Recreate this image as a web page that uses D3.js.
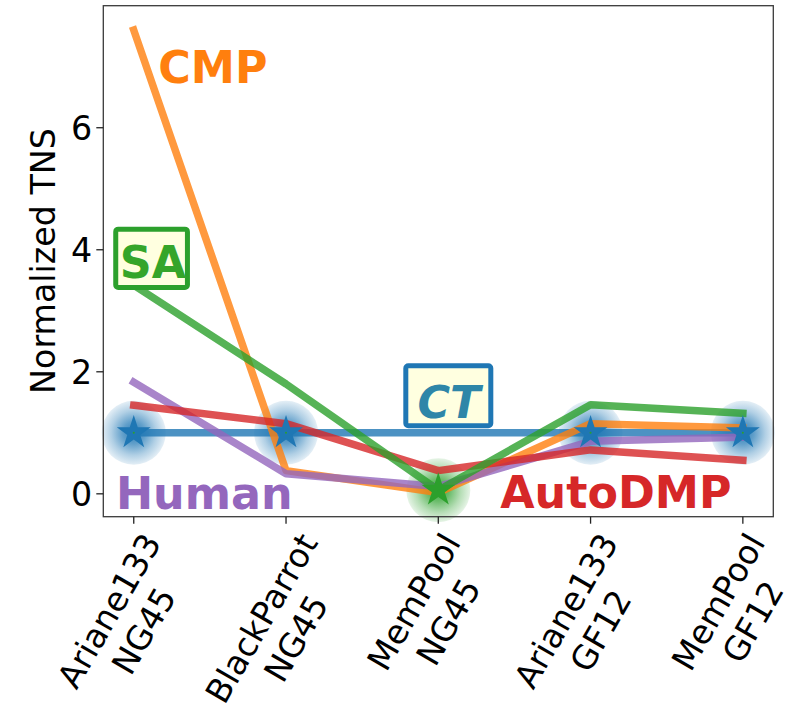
<!DOCTYPE html>
<html>
<head>
<meta charset="utf-8">
<script src="https://cdn.jsdelivr.net/npm/d3@7"></script>
<style>
  html, body { margin: 0; padding: 0; background: #fff; }
  svg { display: block; }
</style>
</head>
<body>
<div id="chart"></div>
<script>
// ---------------- data ----------------
const designs = ["Ariane133", "BlackParrot", "MemPool", "Ariane133", "MemPool"];
const nodes   = ["NG45", "NG45", "NG45", "GF12", "GF12"];
const yTicks  = [0, 2, 4, 6];

const seriesNames = ["CT", "CMP", "Human", "AutoDMP", "SA"];
const CT      = [1.00, 1.00, 1.00, 1.00, 1.00];
const CMP     = [7.60, 0.38, 0.02, 1.15, 1.08];
const SA      = [3.42, 1.80, 0.06, 1.46, 1.32];
const Human   = [1.83, 0.33, 0.12, 0.86, 0.93];
const AutoDMP = [1.45, 1.15, 0.38, 0.72, 0.55];
const bestSeries = ["CT", "CT", "SA", "CT", "CT"];

// annotation label anchors (data coordinates)
const annotNames = ["CMP", "SA", "CT", "Human", "AutoDMP"];
const annotX     = [0.520, 0.126, 2.069, 0.463, 3.166];
const annotY     = [6.73, 3.533, 1.238, -0.249, -0.238];

// ---------------- styles ----------------
const values = { CT, CMP, SA, Human, AutoDMP };
const colors = { CT: "#1f77b4", CMP: "#ff7f0e", SA: "#2ca02c", Human: "#9467bd", AutoDMP: "#d62728" };
const textColors = { CT: "#2e86a8", CMP: "#ff7f0e", SA: "#35a52a", Human: "#9467bd", AutoDMP: "#d62728" };
const boxes = {
  SA: { dx: -37.2, dy: -49.1, w: 71.7, h: 58.3 },
  CT: { dx: -43.0, dy: -52.5, w: 85.0, h: 60.0 }
};
const FONT = "DejaVu Sans";
const W = 805, H = 711;
const plot = { left: 103.3, right: 773.3, top: 5.7, bottom: 516.7 };

const svg = d3.select("#chart").append("svg").attr("width", W).attr("height", H);
svg.append("rect").attr("width", W).attr("height", H).attr("fill", "#fff");

const x = d3.scaleLinear().domain([-0.2, designs.length - 1 + 0.2]).range([plot.left, plot.right]);
const y = d3.scaleLinear().domain([-0.375, 8.0]).range([plot.bottom, plot.top]);

// gradients for glows
const defs = svg.append("defs");
function glowGrad(id, c) {
  const g = defs.append("radialGradient").attr("id", id);
  [[0, 0.95], [0.35, 0.7], [0.7, 0.35], [1, 0.12]].forEach(([o, a]) =>
    g.append("stop").attr("offset", o).attr("stop-color", c).attr("stop-opacity", a));
}
glowGrad("glow-CT", colors.CT);
glowGrad("glow-SA", colors.SA);
defs.append("clipPath").attr("id", "clip").append("rect")
  .attr("x", plot.left).attr("y", plot.top)
  .attr("width", plot.right - plot.left).attr("height", plot.bottom - plot.top);

const idx = d3.range(designs.length);

// glows
svg.append("g").selectAll("circle").data(idx).join("circle")
  .attr("cx", i => x(i)).attr("cy", i => y(values[bestSeries[i]][i]))
  .attr("r", 32)
  .attr("fill", i => `url(#glow-${bestSeries[i]})`);

// lines
const line = d3.line().x((d, i) => x(i)).y(d => y(d));
const lg = svg.append("g").attr("clip-path", "url(#clip)");
seriesNames.forEach(name => {
  lg.append("path").datum(values[name])
    .attr("d", line)
    .attr("fill", "none")
    .attr("stroke", colors[name])
    .attr("stroke-opacity", 0.8)
    .attr("stroke-width", 7.5)
    .attr("stroke-linecap", "square")
    .attr("stroke-linejoin", "round");
});

// stars
const star = d3.symbol().type(d3.symbolStar).size(356);
svg.append("g").selectAll("path").data(idx).join("path")
  .attr("transform", i => `translate(${x(i)},${y(values[bestSeries[i]][i])})`)
  .attr("d", star)
  .attr("fill", i => colors[bestSeries[i]]);
svg.append("g").selectAll("circle").data(idx).join("circle")
  .attr("cx", i => x(i)).attr("cy", i => y(values[bestSeries[i]][i]))
  .attr("r", 1).attr("fill", colors.SA);

// frame
svg.append("rect")
  .attr("x", plot.left).attr("y", plot.top)
  .attr("width", plot.right - plot.left).attr("height", plot.bottom - plot.top)
  .attr("fill", "none").attr("stroke", "#3a3a3a").attr("stroke-width", 1.3);

// y ticks
const yt = svg.append("g");
yTicks.forEach(t => {
  yt.append("line").attr("x1", plot.left - 7).attr("x2", plot.left)
    .attr("y1", y(t)).attr("y2", y(t)).attr("stroke", "#222").attr("stroke-width", 1.3);
  yt.append("text").attr("x", plot.left - 11).attr("y", y(t) + 12)
    .attr("text-anchor", "end").attr("font-family", FONT).attr("font-size", 33.3)
    .attr("fill", "#000").text(t);
});

// y label
svg.append("text")
  .attr("transform", `translate(55,261) rotate(-90)`)
  .attr("text-anchor", "middle").attr("font-family", FONT).attr("font-size", 33.3)
  .attr("fill", "#000").text("Normalized TNS");

// x ticks & labels
const xt = svg.append("g");
const xfs = 33.3, lh = 1.2 * xfs;
idx.forEach(i => {
  xt.append("line").attr("x1", x(i)).attr("x2", x(i))
    .attr("y1", plot.bottom).attr("y2", plot.bottom + 7)
    .attr("stroke", "#222").attr("stroke-width", 1.3);
  const g = xt.append("g");
  const t = g.append("text").attr("text-anchor", "middle")
    .attr("font-family", FONT).attr("font-size", xfs).attr("fill", "#000");
  const l1 = t.append("tspan").attr("x", 0).attr("y", -lh / 2 + 0.36 * xfs).text(designs[i]);
  const l2 = t.append("tspan").attr("x", 0).attr("y", lh / 2 + 0.36 * xfs).text(nodes[i]);
  const wl = Math.max(l1.node().getComputedTextLength(), l2.node().getComputedTextLength());
  const cx = x(i) - 7.5, cy = 546.5 + 0.433 * wl;
  g.attr("transform", `translate(${cx},${cy}) rotate(-60)`);
});

// annotations
const ag = svg.append("g");
annotNames.forEach((name, k) => {
  const ax = x(annotX[k]), ay = y(annotY[k]);
  if (boxes[name]) {
    const b = boxes[name];
    ag.append("rect").attr("x", ax + b.dx).attr("y", ay + b.dy)
      .attr("width", b.w).attr("height", b.h).attr("rx", 2.5)
      .attr("fill", "#ffffe0").attr("stroke", colors[name]).attr("stroke-width", 5);
  }
  ag.append("text").attr("x", ax).attr("y", ay)
    .attr("text-anchor", "middle").attr("font-family", FONT).attr("font-size", 44.4)
    .attr("font-weight", "bold")
    .attr("font-style", name === "CT" ? "italic" : "normal")
    .attr("fill", textColors[name]).text(name);
});
</script>
</body>
</html>
